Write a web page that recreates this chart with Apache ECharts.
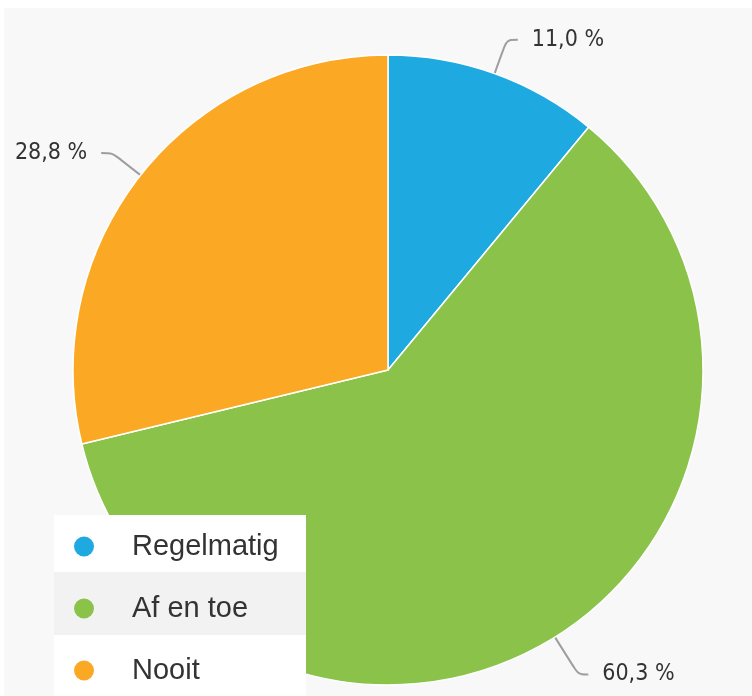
<!DOCTYPE html>
<html>
<head>
<meta charset="utf-8">
<script src="https://cdn.jsdelivr.net/npm/echarts@6/dist/echarts.min.js"></script>
<style>
html,body{margin:0;padding:0;background:#fff;}
#bg{position:absolute;left:4px;top:8px;width:748px;height:688px;background:#f8f8f8;}
#chart{position:absolute;left:0;top:0;width:752px;height:696px;}
</style>
</head>
<body>
<div id="bg"></div>
<div id="chart"></div>
<script>
const categories = ['Regelmatig', 'Af en toe', 'Nooit'];
const values = [11.0, 60.3, 28.8];
const colors = ['#1fa9e1', '#8bc34a', '#fba925'];

const chart = echarts.init(document.getElementById('chart'), null, {renderer: 'canvas'});
chart.setOption({
  animation: false,
  backgroundColor: 'transparent',
  legend: {
    orient: 'vertical',
    left: 74,
    top: 532,
    padding: 0,
    icon: 'circle',
    itemWidth: 20,
    itemHeight: 20,
    itemGap: 33,
    itemStyle: {borderWidth: 0},
    z: 5,
    textStyle: {
      fontFamily: '"Liberation Sans", Arial, sans-serif',
      fontSize: 29,
      lineHeight: 28,
      color: '#333',
      padding: [0, 0, 0, 33]
    },
    data: categories
  },
  graphic: [
    {type: 'rect', z: 3, shape: {x: 54, y: 515, width: 252, height: 181}, style: {fill: '#ffffff'}},
    {type: 'rect', z: 3, shape: {x: 54, y: 572, width: 252, height: 63}, style: {fill: '#f2f2f2'}}
  ],
  series: [{
    type: 'pie',
    center: [388, 370],
    radius: 315,
    startAngle: 90,
    clockwise: true,
    avoidLabelOverlap: false,
    itemStyle: {borderColor: '#ffffff', borderWidth: 1.5},
    label: {
      show: true,
      position: 'outside',
      fontFamily: '"DejaVu Sans Condensed", "DejaVu Sans", sans-serif',
      fontSize: 23,
      color: '#333',
      distanceToLabelLine: 14,
      formatter: p => p.value.toFixed(1).replace('.', ',') + ' %'
    },
    labelLine: {
      show: true,
      length: 36,
      length2: 11,
      smooth: 0.3,
      lineStyle: {color: '#9e9e9e', width: 2}
    },
    emphasis: {disabled: true},
    data: categories.map((c, i) => ({
      name: c,
      value: values[i],
      itemStyle: {color: colors[i]},
      labelLine: i === 1 ? {length: 44, length2: 10} : undefined
    }))
  }]
});
</script>
</body>
</html>
